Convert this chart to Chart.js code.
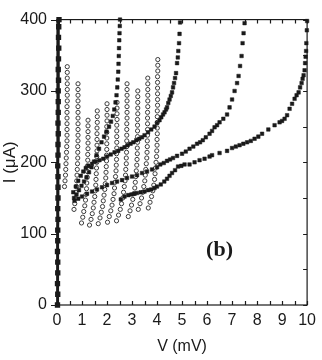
<!DOCTYPE html>
<html>
<head>
<meta charset="utf-8">
<script src="https://cdn.jsdelivr.net/npm/chart.js@4.4.0/dist/chart.umd.min.js"></script>
<style>
  html, body { margin: 0; padding: 0; background: #fff; }
</style>
</head>
<body>
<canvas id="ivChart" width="322" height="360"></canvas>
<script>
// axis ticks
const xTicks = [0, 1, 2, 3, 4, 5, 6, 7, 8, 9, 10];
const yTicks = [0, 100, 200, 300, 400];

// zero-voltage branch (filled squares)
const zeroV = [0.02,0.03,0.02,0.03,0.03,0.02,0.03,0.03,0.04,0.03,0.04,0.04,0.04,0.03,0.04,0.04,0.05,0.04,0.05,0.05,0.05,0.06,0.05,0.06,0.07,0.06,0.07,0.08];
const zeroI = [0,15,30,45,60,75,90,105,120,135,150,165,180,195,210,225,240,255,270,285,300,315,330,345,360,375,390,400];

// resistive branches (filled squares), ending at ~2.5, ~4.9, ~7.5 and ~10 mV
const brAV = [0.68,0.78,0.88,0.98,1.08,1.18,1.28,1.38,1.48,1.58,1.68,1.78,1.88,1.98,2.08,2.16,2.23,2.29,2.34,2.38,2.41,2.43,2.45,2.46,2.47,2.48,2.49,2.50,2.51,2.52];
const brAI = [150,155,161,167,173,179,186,193,201,210,219,228,236,243,250,257,265,274,284,294,305,316,327,338,349,360,371,381,391,400];

const brBV = [0.65,0.75,0.85,0.95,1.05,1.15,1.25,1.4,1.55,1.7,1.85,2.0,2.15,2.3,2.45,2.58,2.7,2.82,2.94,3.05,3.17,3.29,3.4,3.5,3.64,3.77,3.9,4.0,4.1,4.17,4.24,4.3,4.36,4.4,4.45,4.5,4.55,4.6,4.64,4.68,4.72,4.76,4.8,4.83,4.85,4.88,4.9,4.92];
const brBI = [158,166,174,181,187,192,195,198,201,203,205,208,211,214,216,219,221,224,226,228,231,233,235,238,242,246,250,255,259,263,267,270,274,277,283,288,293,298,305,311,318,325,339,347,356,367,380,396];

const brCV = [0.7,0.85,1.0,1.2,1.4,1.6,1.8,2.0,2.2,2.4,2.6,2.8,3.0,3.2,3.4,3.6,3.8,4.0,4.13,4.27,4.4,4.52,4.64,4.8,5.0,5.15,5.3,5.45,5.6,5.72,5.83,5.95,6.1,6.2,6.3,6.4,6.5,6.65,6.8,6.9,7.0,7.1,7.2,7.26,7.32,7.38,7.42,7.46,7.5];
const brCI = [146,149,152,156,159,162,165,168,171,173,175,178,180,182,185,187,190,193,197,199,202,204,206,209,212,215,219,222,226,228,231,235,240,244,249,252,256,261,267,277,288,300,311,321,335,349,367,381,395];

const brDV = [2.55,2.7,2.85,2.98,3.1,3.2,3.35,3.5,3.64,3.77,3.9,4.0,4.15,4.29,4.4,4.5,4.6,4.72,4.84,4.97,5.1,5.3,5.5,5.7,5.9,6.1,6.2,6.5,6.8,7.0,7.15,7.3,7.45,7.6,7.75,7.9,8.05,8.2,8.45,8.7,8.9,9.0,9.1,9.2,9.3,9.4,9.5,9.58,9.66,9.72,9.78,9.82,9.86,9.9,9.92,9.94,9.96,9.97,9.99,10.0];
const brDI = [148,152,154,155,156,157,158,159,161,162,164,166,169,173,177,181,185,189,194,195,197,197,200,203,205,208,210,213,216,220,222,224,226,228,230,233,236,240,246,252,256,258,261,266,275,282,289,294,298,305,311,317,322,329,339,348,356,367,385,398];

// open-circle branches, one list per column
const openV = [
  [0.30,0.32,0.34,0.35,0.36,0.37,0.38,0.39,0.40,0.40,0.40,0.40,0.40,0.40,0.40,0.41,0.41,0.41,0.41,0.41,0.41,0.41],
  [0.68,0.71,0.74,0.76,0.78,0.79,0.80,0.81,0.82,0.83,0.83,0.83,0.84,0.84,0.84,0.84,0.84,0.84,0.84,0.84,0.84,0.84,0.84],
  [0.98,1.03,1.07,1.11,1.14,1.16,1.18,1.19,1.21,1.22,1.22,1.23,1.23,1.24,1.24,1.24,1.24,1.24,1.24],
  [1.30,1.36,1.41,1.45,1.48,1.51,1.53,1.55,1.56,1.57,1.58,1.59,1.59,1.60,1.60,1.60,1.60,1.60,1.61,1.61,1.61],
  [1.65,1.72,1.77,1.82,1.85,1.88,1.91,1.93,1.95,1.96,1.97,1.98,1.98,1.99,1.99,1.99,1.99,1.99,2.00,2.00,2.00,2.00],
  [2.02,2.09,2.15,2.20,2.24,2.28,2.30,2.32,2.34,2.36,2.37,2.38,2.38,2.39,2.39,2.39,2.39,2.39,2.40,2.40,2.40,2.40],
  [2.38,2.46,2.53,2.58,2.63,2.66,2.69,2.72,2.74,2.75,2.77,2.77,2.78,2.79,2.79,2.79,2.79,2.79,2.80,2.80,2.80,2.80,2.80,2.80,2.80],
  [2.85,2.92,2.98,3.03,3.07,3.11,3.13,3.15,3.17,3.19,3.20,3.21,3.21,3.22,3.22,3.22,3.22,3.22,3.23,3.23,3.23,3.23,3.23],
  [3.25,3.32,3.38,3.43,3.47,3.51,3.53,3.55,3.57,3.59,3.60,3.61,3.61,3.62,3.62,3.62,3.62,3.62,3.63,3.63,3.63,3.63,3.63,3.63],
  [3.65,3.72,3.78,3.83,3.87,3.90,3.92,3.94,3.96,3.98,3.99,4.00,4.00,4.01,4.01,4.01,4.01,4.01,4.02,4.02,4.02,4.02,4.02,4.02,4.03,4.03,4.03]
];
const openI = [
  [166,174,182,190,198,206,214,222,230,238,246,254,262,270,278,286,294,302,310,318,326,334],
  [134,142,150,158,166,174,182,190,198,206,214,222,230,238,246,254,262,270,278,286,294,302,310],
  [115,123,131,139,147,155,163,171,179,187,195,203,211,219,227,235,243,251,259],
  [112,120,128,136,144,152,160,168,176,184,192,200,208,216,224,232,240,248,256,264,272],
  [114,122,130,138,146,154,162,170,178,186,194,202,210,218,226,234,242,250,258,266,274,282],
  [116,124,132,140,148,156,164,172,180,188,196,204,212,220,228,236,244,252,260,268,276,284],
  [118,126,134,142,150,158,166,174,182,190,198,206,214,222,230,238,246,254,262,270,278,286,294,302,310],
  [124,132,140,148,156,164,172,180,188,196,204,212,220,228,236,244,252,260,268,276,284,292,300],
  [134,142,150,158,166,174,182,190,198,206,214,222,230,238,246,254,262,270,278,286,294,302,310,318],
  [136,144,152,160,168,176,184,192,200,208,216,224,232,240,248,256,264,272,280,288,296,304,312,320,328,336,344]
];

const fontFam = '"Liberation Sans", Arial, Helvetica, sans-serif';
const ink = '#1a1a1a';

function punti(vs, is) {
    return vs.map((v, k) => ({ x: v, y: is[k] }));
}

function squares(vs, is) {
    return {
        data: punti(vs, is),
        showLine: false,
        pointStyle: 'rect',
        pointRadius: 2.5,
        pointBackgroundColor: ink,
        pointBorderColor: ink,
        pointBorderWidth: 0.5,
        clip: 6,
        order: 1
    };
}

const datasets = [];
datasets.push({
    data: punti(zeroV, zeroI),
    showLine: true,
    borderColor: ink,
    borderWidth: 2.8,
    pointStyle: 'rect',
    pointRadius: 1.8,
    pointBackgroundColor: ink,
    pointBorderColor: ink,
    clip: 6,
    order: 0
});
datasets.push(squares(brAV, brAI));
datasets.push(squares(brBV, brBI));
datasets.push(squares(brCV, brCI));
datasets.push(squares(brDV, brDI));
openV.forEach((vs, k) => {
    datasets.push({
        data: punti(vs, openI[k]),
        showLine: false,
        pointStyle: 'circle',
        pointRadius: 2.1,
        pointBackgroundColor: '#fff',
        pointBorderColor: '#3a3a3a',
        pointBorderWidth: 1,
        order: 2
    });
});

// box frame, inward/outward ticks and the panel label
const cornice = {
    id: 'cornice',
    beforeDatasetsDraw(chart) {
        const { ctx, chartArea: a, scales: { x, y } } = chart;
        ctx.save();
        ctx.strokeStyle = ink;
        ctx.lineWidth = 1.2;
        ctx.strokeRect(a.left, a.top, a.right - a.left, a.bottom - a.top);
        ctx.beginPath();
        for (let v = 0; v <= 10; v += 0.5) {
            const px = Math.round(x.getPixelForValue(v)) + 0.5;
            ctx.moveTo(px, a.bottom); ctx.lineTo(px, a.bottom - 4);
            ctx.moveTo(px, a.top); ctx.lineTo(px, a.top + 4);
        }
        for (let v = 0; v <= 400; v += 50) {
            const py = Math.round(y.getPixelForValue(v)) + 0.5;
            ctx.moveTo(a.right, py); ctx.lineTo(a.right - 4, py);
            if (v % 100 === 0) { ctx.moveTo(a.left, py); ctx.lineTo(a.left - 6, py); }
        }
        ctx.stroke();
        ctx.fillStyle = ink;
        ctx.font = 'bold 22px "Liberation Serif", "Times New Roman", serif';
        ctx.textAlign = 'center';
        ctx.textBaseline = 'middle';
        ctx.fillText('(b)', x.getPixelForValue(6.5), y.getPixelForValue(77));
        ctx.restore();
    }
};

new Chart(document.getElementById('ivChart'), {
    type: 'scatter',
    data: { datasets: datasets },
    options: {
        responsive: false,
        animation: false,
        layout: { padding: { top: 16, right: 13, left: 0, bottom: 0 } },
        plugins: { legend: { display: false }, tooltip: { enabled: false } },
        scales: {
            x: {
                type: 'linear', min: 0, max: 10,
                afterFit: s => { s.height = 55; },
                afterBuildTicks: s => { s.ticks = xTicks.map(v => ({ value: v })); },
                ticks: { padding: 6, color: ink, font: { family: fontFam, size: 16 }, maxRotation: 0, autoSkip: false },
                grid: { display: false, drawTicks: false },
                border: { display: false },
                title: { display: true, text: 'V (mV)', color: ink, font: { family: fontFam, size: 16 }, padding: { top: 0, bottom: 4 } }
            },
            y: {
                type: 'linear', min: 0, max: 400,
                afterFit: s => { s.width = 57; },
                afterBuildTicks: s => { s.ticks = yTicks.map(v => ({ value: v })); },
                ticks: { padding: 10, color: ink, font: { family: fontFam, size: 16 } },
                grid: { display: false, drawTicks: false },
                border: { display: false },
                title: { display: true, text: 'I (μA)', color: ink, font: { family: fontFam, size: 17 }, padding: { top: 0, bottom: 0 } }
            }
        }
    },
    plugins: [cornice]
});
</script>
</body>
</html>
